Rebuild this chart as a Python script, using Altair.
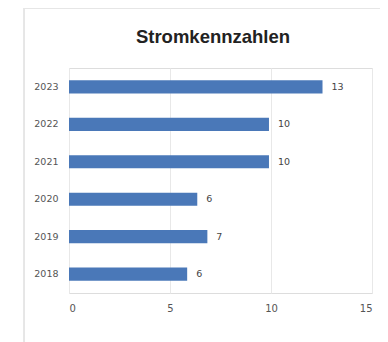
import altair as alt
import pandas as pd

years = ["2023", "2022", "2021", "2020", "2019", "2018"]
values = [12.55, 9.9, 9.9, 6.35, 6.85, 5.85]
chart_title = ["Stromkennzahlen"]

df = pd.DataFrame({"year": years, "value": values})
tdf = pd.DataFrame({"t": chart_title})

FONT = "DejaVu Sans"

base = alt.Chart(df).encode(
    y=alt.Y("year:N", sort=years, title=None,
            scale=alt.Scale(paddingInner=0.65, paddingOuter=0.33),
            axis=alt.Axis(labelFontSize=9.5, labelColor="#555", labelPadding=11,
                          ticks=False, domain=False, grid=False, labelFont=FONT)),
)

bars = base.mark_bar(color="#4a78b8").encode(
    x=alt.X("value:Q", title=None,
            scale=alt.Scale(domain=[0, 15], nice=False),
            axis=alt.Axis(values=[0, 5, 10, 15], labelFontSize=10, labelColor="#555",
                          labelPadding=10, ticks=False, domain=False, grid=True,
                          gridColor="#e8e8e8", labelFont=FONT)),
)

labels = base.mark_text(align="left", dx=9, fontSize=9.5, color="#444",
                        font=FONT).encode(
    x="value:Q",
    text=alt.Text("value:Q", format=".0f"),
)

card = alt.Chart(df).mark_rect(filled=False, stroke="#e6e6e6", strokeWidth=1).encode(
    x=alt.value(-45), x2=alt.value(313), y=alt.value(-60), y2=alt.value(300)
)

title = alt.Chart(tdf).mark_text(font="Liberation Sans", fontSize=18.5, fontWeight="bold",
                                 color="#222", align="center", baseline="middle").encode(
    x=alt.value(144), y=alt.value(-31), text="t:N"
)

chart = alt.layer(card, bars, labels, title).properties(
    width=303, height=225,
    padding={"left": 61, "top": 60, "right": 8, "bottom": 60},
    autosize=alt.AutoSizeParams(type="none"),
).configure_view(stroke=None).configure(background="white")

chart.save("out.html", embed_options={"renderer": "svg", "actions": False})
